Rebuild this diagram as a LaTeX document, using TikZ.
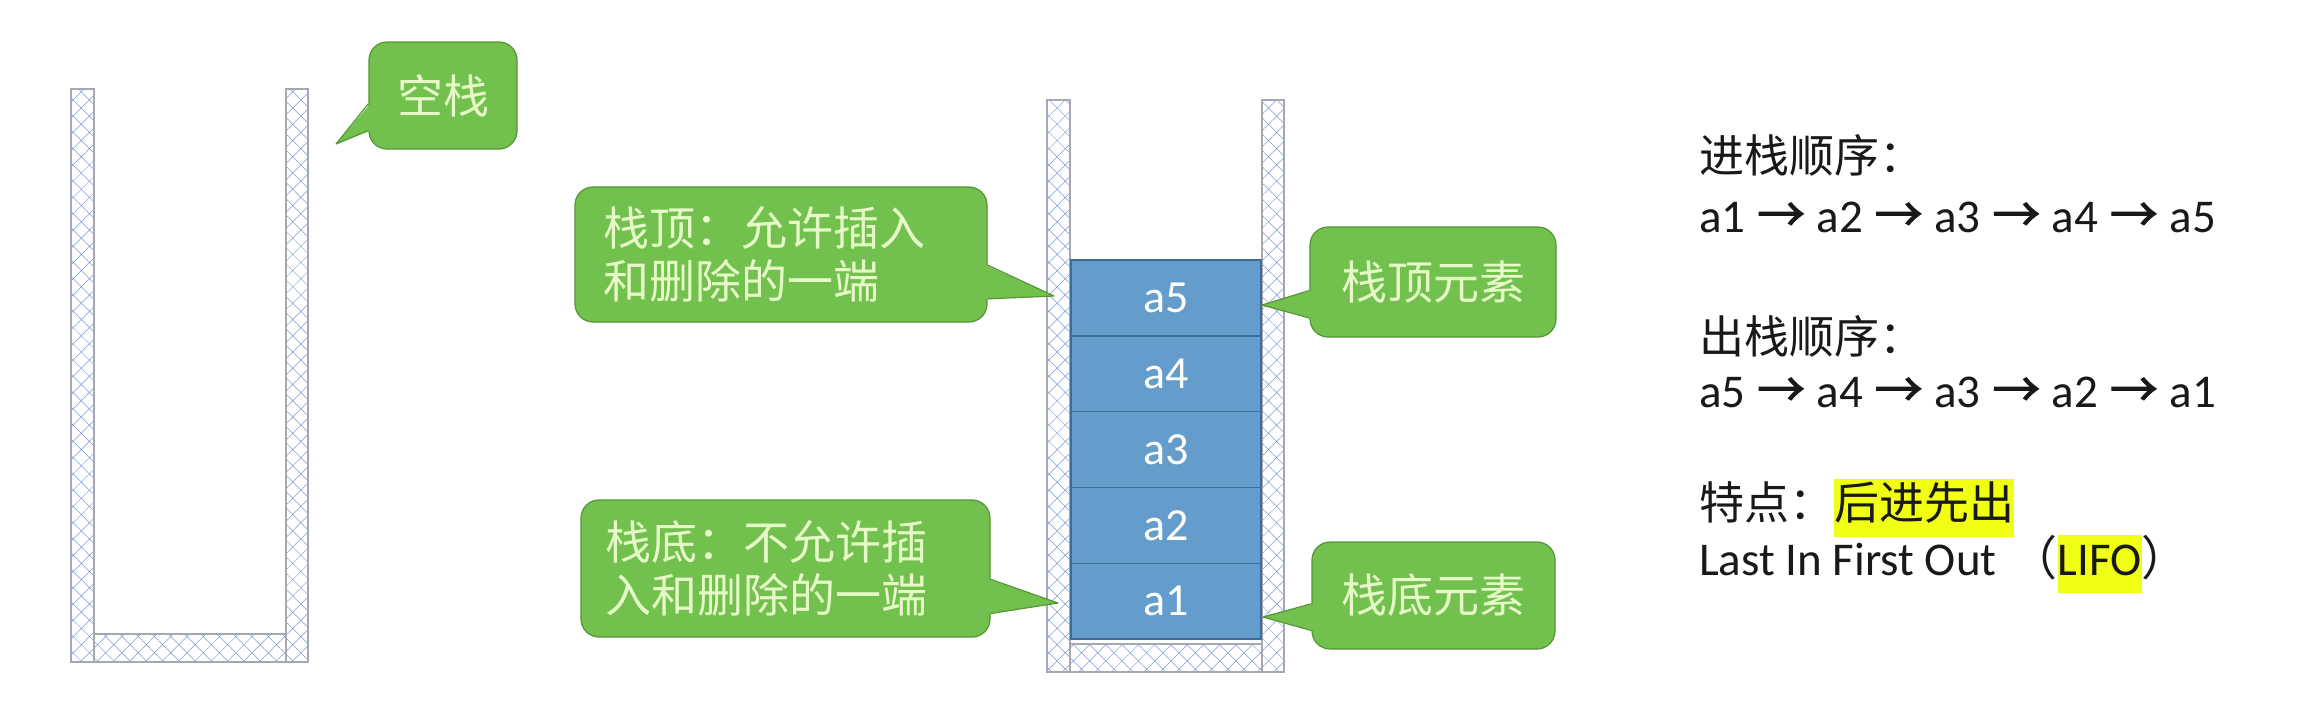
\documentclass[tikz,border=0pt]{standalone}
\usepackage{fontspec}
\setmainfont{Carlito}
\newfontfamily\cjk{Noto Sans CJK SC}
\newfontfamily\arrowfont[FakeBold=2]{Noto Sans CJK SC}
\usepackage{xcolor}
\definecolor{stkgreen}{RGB}{114,192,78}
\definecolor{stkgreen2}{RGB}{84,150,52}
\definecolor{stkpale}{RGB}{230,250,200}
\definecolor{stkblue}{RGB}{100,156,204}
\definecolor{stkblue2}{RGB}{62,108,152}
\definecolor{stkhatch}{RGB}{125,155,215}
\definecolor{stkwall}{RGB}{165,168,178}
\definecolor{stkyellow}{RGB}{240,255,20}
\definecolor{stkink}{RGB}{25,25,25}
\usetikzlibrary{patterns.meta}
\newcommand{\hlt}[1]{{\setlength{\fboxsep}{0pt}\colorbox{stkyellow}{\strut #1}}}
\newcommand{\stkto}{\hspace{1pt}{\arrowfont\fontsize{48}{58}\selectfont →}\hspace{1pt}}

\begin{document}
\begin{tikzpicture}[x=1pt, y=-1pt,
  wall/.style={draw=stkwall, line width=1.4pt, pattern={Hatch[angle=45,distance=11.5pt,line width=0.5pt]}, pattern color=stkhatch},
  elem/.style={draw=stkblue2, fill=stkblue, line width=1.4pt, minimum width=190pt, minimum height=75.8pt, text=white, inner sep=0pt, font=\fontsize{46}{50}\selectfont},
  note/.style={draw=stkgreen2, fill=stkgreen, line width=1.2pt, rounded corners=18pt, text=stkpale, align=left, inner sep=0pt, font=\cjk\fontsize{46}{53}\selectfont},
  info/.style={anchor=west, text=stkink, inner sep=0pt, font=\fontsize{47}{58}\selectfont}]
\fill[white] (0,0) rectangle (2310,726);
\useasboundingbox (0,0) rectangle (2310,726);
% Empty stack
\draw[wall] (71,89) rectangle (94,662);
\draw[wall] (286,89) rectangle (308,662);
\draw[wall] (94,634) rectangle (286,662);
% Full stack
\draw[wall] (1047,100) rectangle (1070,672);
\draw[wall] (1262,100) rectangle (1284,672);
\draw[wall] (1070,644) rectangle (1262,672);
\foreach \i in {1,...,5}
  \node[elem] (e\i) at (1166,{639-75.8*(\i-0.5)}) {a\i};
% Callouts
\node[note, minimum width=148pt, minimum height=107pt] (n0) at (443,95.5) {空栈};
\node[note, minimum width=412pt, minimum height=135pt, text width=356pt] (n1) at (781,254.5) {栈顶：允许插入\\和删除的一端};
\node[note, minimum width=409pt, minimum height=137pt, text width=360pt] (n2) at (785.5,568.5) {栈底：不允许插\\入和删除的一端};
\node[note, minimum width=246pt, minimum height=110pt] (n3) at (1433,282) {栈顶元素};
\node[note, minimum width=243pt, minimum height=107pt] (n4) at (1433.5,595.5) {栈底元素};
\coordinate (t0) at (336,144);
\coordinate (t1) at (1054,296);
\coordinate (t2) at (1058,603);
\coordinate (t3) at (1262,305);
\coordinate (t4) at (1263,617);
\foreach \k/\s/\d/\h in {0/west/2/107, 1/east/-2/135, 2/east/-2/137, 3/west/2/110, 4/west/2/107} {
  \fill[stkgreen] ([xshift=\d pt, yshift=-0.583*\h pt]n\k.north \s) -- (t\k) -- ([xshift=\d pt, yshift=-0.833*\h pt]n\k.north \s) -- cycle;
  \draw[stkgreen2, line width=1.2pt, line join=round] ([yshift=-0.583*\h pt]n\k.north \s) -- (t\k) -- ([yshift=-0.833*\h pt]n\k.north \s);
}
% Order and feature
\node[info] (in1) at (1699,155) {\cjk\fontsize{45}{58}\selectfont 进栈顺序：};
\node[info] (in2) at (1699,217) {a1 \stkto{} a2 \stkto{} a3 \stkto{} a4 \stkto{} a5};
\node[info] (out1) at (1699,336) {\cjk\fontsize{45}{58}\selectfont 出栈顺序：};
\node[info] (out2) at (1699,392) {a5 \stkto{} a4 \stkto{} a3 \stkto{} a2 \stkto{} a1};
\node[info] (feat) at (1699,508) {\cjk\fontsize{45}{58}\selectfont 特点：\hlt{后进先出}};
\node[info] (lifo) at (1699,564) {Last In First Out\hspace{14pt}{\cjk （}\hlt{LIFO}{\cjk ）}};
\end{tikzpicture}
\end{document}
